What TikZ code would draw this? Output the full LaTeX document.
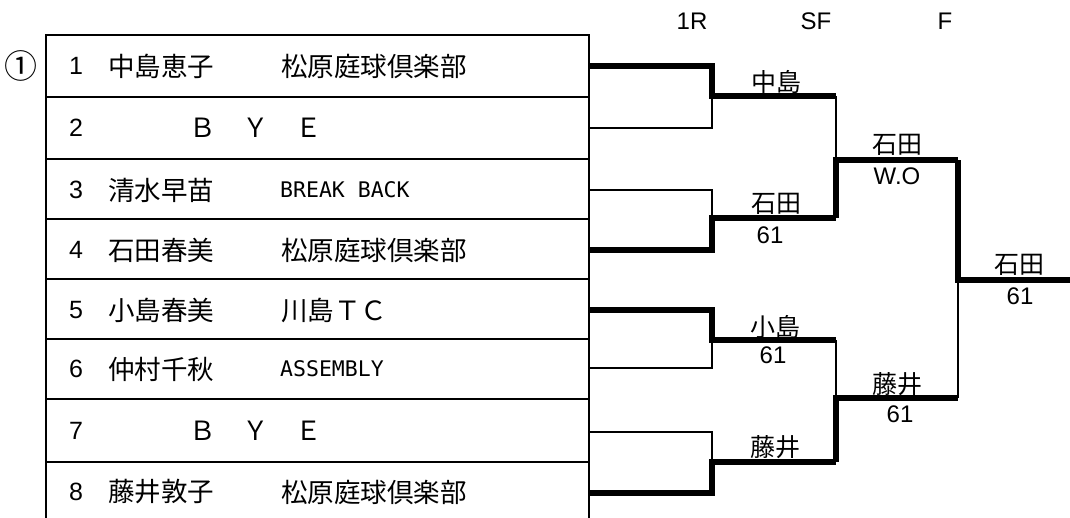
\documentclass[tikz,border=0pt]{standalone}
\usepackage{fontspec}
\setmainfont{Liberation Sans}
\newfontfamily\jp{Noto Sans CJK JP}
\newfontfamily\hw{DejaVu Sans Mono}
\tikzset{
  win/.style={line width=5.5pt,line join=miter},
  lose/.style={line width=2.6pt},
  rule/.style={line width=1.6pt},
  num/.style={inner sep=0pt,font=\fontsize{25}{25}\selectfont},
  pname/.style={anchor=west,inner sep=0pt,font=\jp\fontsize{26.5}{26.5}\selectfont},
  club/.style={anchor=west,inner sep=0pt,font=\jp\fontsize{26.5}{26.5}\selectfont},
  clubhw/.style={anchor=west,inner sep=0pt,font=\hw\fontsize{21.5}{21.5}\selectfont},
  pl/.style={inner sep=0pt,font=\jp\fontsize{25}{25}\selectfont},
  sc/.style={inner sep=0pt,font=\fontsize{24}{24}\selectfont},
  rnd/.style={inner sep=0pt,font=\fontsize{24}{24}\selectfont}
}
\begin{document}
\begin{tikzpicture}[x=1pt,y=-1pt]
  \clip (0,0) rectangle (1070,517);
  \node[rnd] (r1) at (692,21.5) {1R};
  \node[rnd] (rsf) at (816,21.5) {SF};
  \node[rnd] (rf) at (945,21.5) {F};
  \node[inner sep=0pt,font=\jp\fontsize{33}{33}\selectfont] (blk) at (21,66) {①};
  \draw[rule] (46,540) -- (46,35) -- (589,35) -- (589,540)
    (46,97) -- (589,97) (46,159) -- (589,159) (46,219) -- (589,219)
    (46,279) -- (589,279) (46,339) -- (589,339) (46,399) -- (589,399)
    (46,462) -- (589,462);
  \node[num] (n1) at (76,66) {1};
  \node[pname] (nm1) at (108,66) {中島恵子};
  \node[club] (cl1) at (281,66) {松原庭球倶楽部};
  \node[num] (n2) at (76,128) {2};
  \node[pname] (nm2) at (189,128) {Ｂ　Ｙ　Ｅ};
  \node[num] (n3) at (76,190) {3};
  \node[pname] (nm3) at (108,190) {清水早苗};
  \node[clubhw] (cl3) at (280,190) {BREAK BACK};
  \node[num] (n4) at (76,250) {4};
  \node[pname] (nm4) at (108,250) {石田春美};
  \node[club] (cl4) at (281,250) {松原庭球倶楽部};
  \node[num] (n5) at (76,310) {5};
  \node[pname] (nm5) at (108,310) {小島春美};
  \node[club] (cl5) at (281,310) {川島ＴＣ};
  \node[num] (n6) at (76,369) {6};
  \node[pname] (nm6) at (108,369) {仲村千秋};
  \node[clubhw] (cl6) at (280,369) {ASSEMBLY};
  \node[num] (n7) at (76,431) {7};
  \node[pname] (nm7) at (189,431) {Ｂ　Ｙ　Ｅ};
  \node[num] (n8) at (76,492) {8};
  \node[pname] (nm8) at (108,492) {藤井敦子};
  \node[club] (cl8) at (281,492) {松原庭球倶楽部};
  \coordinate (p1) at (589,66); \coordinate (p2) at (589,128);
  \coordinate (p3) at (589,190); \coordinate (p4) at (589,250);
  \coordinate (p5) at (589,310); \coordinate (p6) at (589,368);
  \coordinate (p7) at (589,432); \coordinate (p8) at (589,493);
  \coordinate (j1) at (712,96); \coordinate (k1) at (836,96);
  \coordinate (j2) at (712,218); \coordinate (k2) at (836,218);
  \coordinate (j3) at (712,340); \coordinate (k3) at (836,340);
  \coordinate (j4) at (712,462); \coordinate (k4) at (836,462);
  \coordinate (s1) at (836,160); \coordinate (t1) at (958,160);
  \coordinate (s2) at (836,398); \coordinate (t2) at (958,398);
  \coordinate (f1) at (958,280); \coordinate (f2) at (1072,280);
  \draw[lose] (p2) -| (j1);
  \draw[win] (p1) -| (j1) -- (k1);
  \draw[lose] (p3) -| (j2);
  \draw[win] (p4) -| (j2) -- (k2);
  \draw[lose] (p6) -| (j3);
  \draw[win] (p5) -| (j3) -- (k3);
  \draw[lose] (p7) -| (j4);
  \draw[win] (p8) -| (j4) -- (k4);
  \draw[lose] (k1) -- (s1);
  \draw[win] (k2) -- (s1) -- (t1);
  \draw[lose] (k3) -- (s2);
  \draw[win] (k4) -- (s2) -- (t2);
  \draw[lose] (t2) -- (f1);
  \draw[win] (t1) -- (f1) -- (f2);
  \node[pl] (w1) at (776,82) {中島};
  \node[pl] (w2) at (776,204) {石田};
  \node[sc] (sc2) at (770,235) {61};
  \node[pl] (w3) at (775,327) {小島};
  \node[sc] (sc3) at (773,355) {61};
  \node[pl] (w4) at (775,447) {藤井};
  \node[pl] (sf1) at (897,145) {石田};
  \node[sc] (scs1) at (897,176) {W.O};
  \node[pl] (sf2) at (897,384) {藤井};
  \node[sc] (scs2) at (900,414) {61};
  \node[pl] (fw) at (1019,265) {石田};
  \node[sc] (scf) at (1020,296) {61};
\end{tikzpicture}
\end{document}
